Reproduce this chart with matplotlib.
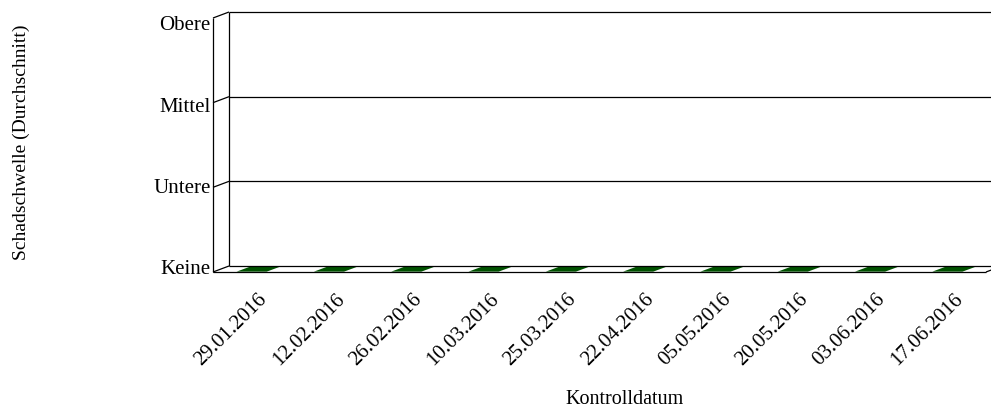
import matplotlib
matplotlib.use("Agg")
import matplotlib.pyplot as plt
from matplotlib.transforms import offset_copy
from matplotlib.patches import Polygon

# data
dates = ["29.01.2016", "12.02.2016", "26.02.2016", "10.03.2016", "25.03.2016",
         "22.04.2016", "05.05.2016", "20.05.2016", "03.06.2016", "17.06.2016"]
damage = [0, 0, 0, 0, 0, 0, 0, 0, 0, 0]
levels = ["Keine", "Untere", "Mittel", "Obere"]

plt.rcParams['font.family'] = ['Liberation Serif', 'DejaVu Serif']

W, H = 991, 417
fig = plt.figure(figsize=(W / 100, H / 100), dpi=100)
# front plane of the pseudo-3D box, in pixels
left, right, bottom, top = 213, 986, 272, 18
ax = fig.add_axes([left / W, (H - bottom) / H, (right - left) / W, (bottom - top) / H])
ax.set_xlim(0, len(dates))
ax.set_ylim(0, len(levels) - 1)
ax.axis('off')

# depth offset in pixels -> data units
DX, DY = 16, 6
dx = DX * len(dates) / (right - left)
dy = DY * (len(levels) - 1) / (bottom - top)

n = len(dates)
line = dict(color='black', lw=0.9, clip_on=False, solid_capstyle='butt')

# back wall grid lines and left edges
for i, lab in enumerate(levels):
    if i > 0:
        ax.plot([dx, n + dx], [i + dy, i + dy], **line)
    ax.plot([0, dx], [i, i + dy], **line)
    tr = offset_copy(ax.transData, fig=fig, x=0, y=2 - 3.3 * i, units='dots')
    ax.text(-0.03, i, lab, transform=tr, ha='right', va='center', fontsize=15)
ax.plot([dx, dx], [dy, len(levels) - 1 + dy], **line)
ax.plot([0, 0], [0, len(levels) - 1], **line)

# floor
ax.plot([0, n], [0, 0], **line)
ax.plot([dx, n + dx], [dy, dy], **line)
ax.plot([n, n + dx], [0, dy], **line)

# bars (all zero -> only the top face on the floor is visible)
bw = 0.39
for i, v in enumerate(damage):
    c = i + 0.5
    face = Polygon([(c - bw / 2, v + 0.004), (c + bw / 2, v + 0.004),
                    (c + bw / 2 + dx * 0.85, v + dy * 0.9), (c - bw / 2 + dx * 0.85, v + dy * 0.9)],
                   closed=True, facecolor='#005200', edgecolor='none', clip_on=False)
    ax.add_patch(face)

# category labels
lab_tr = offset_copy(ax.transData, fig=fig, x=6, y=-18, units='dots')
for i, d in enumerate(dates):
    ax.text(i + 0.5, 0, d, transform=lab_tr, rotation=45, rotation_mode='anchor',
            ha='right', va='top', fontsize=15)

fig.text(625 / W, 1 - 400 / H, "Kontrolldatum", ha='center', va='center', fontsize=14.5)
fig.text(21 / W, 1 - 142 / H, "Schadschwelle (Durchschnitt)", ha='center', va='center',
         rotation=90, fontsize=14)

fig.savefig("out.png", dpi=100)
